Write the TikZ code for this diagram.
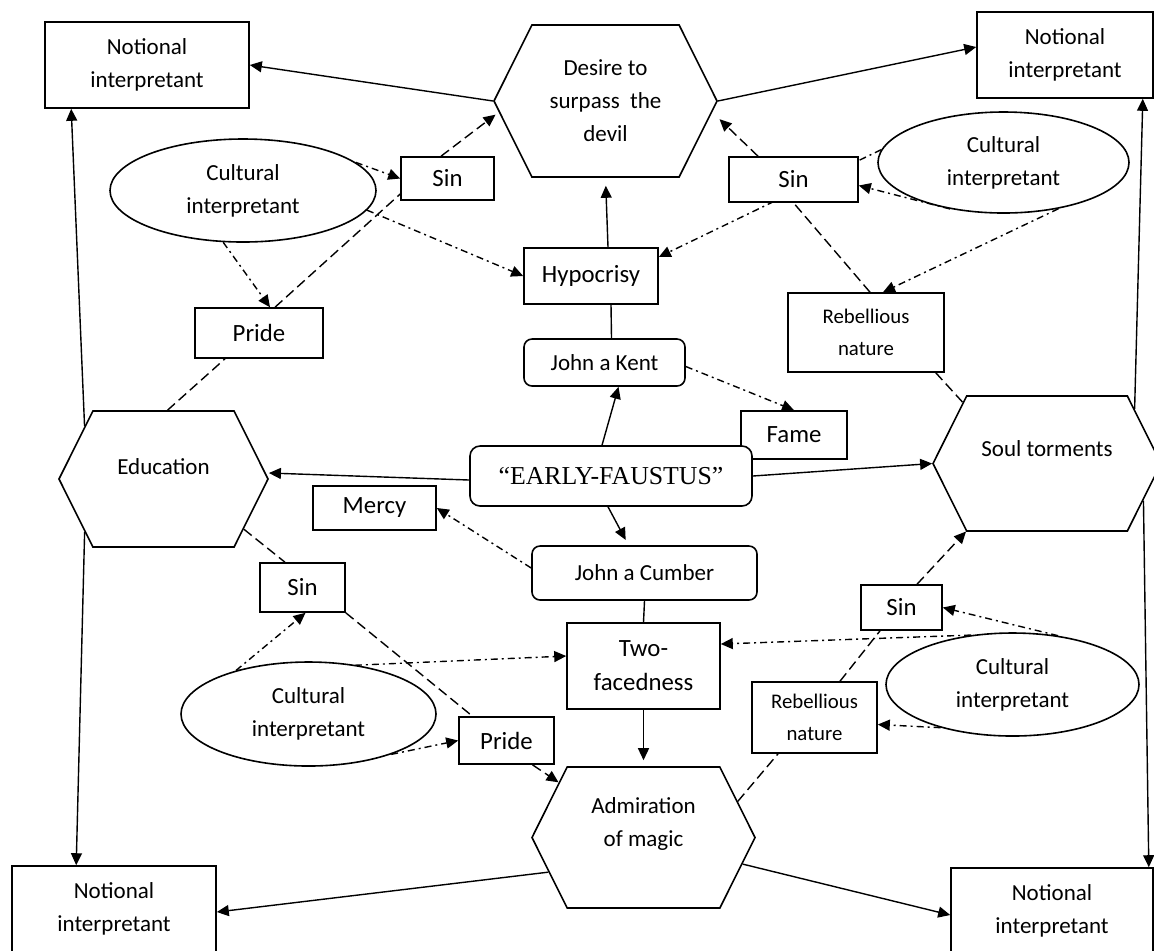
\documentclass[tikz,border=0pt]{standalone}
\usepackage{fontspec}
\setmainfont{Carlito}
\newfontfamily\efserif{Liberation Serif}
\usetikzlibrary{shapes.geometric,shapes.symbols,arrows.meta,backgrounds}

\newcommand{\txtnorm}{\fontsize{11.5}{16.5}\selectfont}
\newcommand{\txtbig}{\fontsize{12.4}{17}\selectfont}
\newcommand{\txtsmall}{\fontsize{10.4}{16}\selectfont}

\tikzset{
  base/.style={draw, fill=white, line width=0.8pt, inner sep=0pt, align=center, font=\txtnorm},
  sz/.style 2 args={minimum width=#1, minimum height=#2},
  boxn/.style={base, rectangle},
  roundbox/.style={base, rectangle, rounded corners=4pt},
  hexa/.style={base, signal, signal to=west and east, signal pointer angle=127},
  cult/.style={base, ellipse},
  every label/.style={font=\txtnorm, align=center},
  link/.style={line width=0.7pt},
  arr/.style={link, -{Triangle[length=6pt, width=5.5pt]}},
  dsh/.style={dash pattern=on 5pt off 2.5pt},
  dshdot/.style={dash pattern=on 3.5pt off 2pt on 1pt off 2pt},
}

\begin{document}
\begin{tikzpicture}[x=0.5pt, y=-0.5pt]
    \path[use as bounding box, clip] (0,0) rectangle (1154,950);

    % Notional interpretants
    \node[boxn, sz={102pt}{43pt}] (niTL) at (147,65) {Notional\\interpretant};
    \node[boxn, sz={88pt}{43pt}] (niTR) at (1065,55) {Notional\\interpretant};
    \node[boxn, sz={102pt}{43pt}] (niBL) at (114,909) {Notional\\interpretant};
    \node[boxn, sz={101pt}{43pt}] (niBR) at (1052,911) {Notional\\interpretant};

    % Hexagons
    \node[hexa, sz={111.5pt}{76pt}] (desire) at (605.5,101) {Desire to\\surpass\ \ the\\devil};
    \node[hexa, sz={104.5pt}{68pt}, label={[yshift=6pt]center:Education}] (edu) at (163.5,479) {};
    \node[hexa, sz={114pt}{67.5pt}, label={[yshift=7.5pt]center:Soul torments}] (soul) at (1047,463.5) {};
    \node[hexa, sz={111.5pt}{70.5pt}, label={[yshift=7pt]center:Admiration\\of magic}] (adm) at (643.5,837.5) {};

    % Cultural interpretants
    \node[cult, sz={133pt}{51.5pt}] (ciTL) at (243,190.5) {Cultural\\interpretant};
    \node[cult, sz={125.5pt}{50.5pt}] (ciTR) at (1003.5,162.5) {Cultural\\interpretant};
    \node[cult, sz={127.5pt}{52pt}] (ciBL) at (308.5,714) {Cultural\\interpretant};
    \node[cult, sz={126.5pt}{51.5pt}] (ciLR) at (1012.5,684.5) {Cultural\\interpretant};

    % Boxes
    \node[boxn, sz={46.5pt}{21.5pt}, font=\txtbig] (sinTL) at (447.5,178.5) {Sin};
    \node[boxn, sz={67pt}{28pt}, font=\txtbig] (hyp) at (591,276) {Hypocrisy};
    \node[boxn, sz={64.5pt}{22.5pt}, font=\txtbig] (sinTR) at (793.5,179.5) {Sin};
    \node[boxn, sz={78pt}{39.5pt}, font=\txtsmall] (rebTR) at (866,332.5) {Rebellious\\nature};
    \node[boxn, sz={64pt}{25pt}, font=\txtbig] (prideTL) at (259,333) {Pride};
    \node[roundbox, sz={80.5pt}{23.5pt}] (jak) at (604.5,362.5) {John a Kent};
    \node[boxn, sz={53pt}{24pt}, font=\txtbig] (fame) at (794,435) {Fame};
    \node[roundbox, rounded corners=5pt, sz={141pt}{30pt}, font=\efserif\fontsize{12.9}{15}\selectfont] (ef) at (611,476) {“EARLY-FAUSTUS”};
    \node[boxn, sz={61.5pt}{22pt}, font=\txtbig] (mercy) at (374.5,508) {Mercy};
    \node[roundbox, sz={112.5pt}{27pt}] (jac) at (644.5,573) {John a Cumber};
    \node[boxn, sz={42.5pt}{24.5pt}, font=\txtbig] (sinLL) at (302.5,587.5) {Sin};
    \node[boxn, sz={76.5pt}{43pt}, font=\txtbig] (two) at (643.5,666) {Two-\\facedness};
    \node[boxn, sz={47.5pt}{23.5pt}, font=\txtbig] (prideLL) at (506.5,740.5) {Pride};
    \node[boxn, sz={40.5pt}{22.5pt}, font=\txtbig] (sinLR) at (901.5,607.5) {Sin};
    \node[boxn, sz={62.5pt}{35.5pt}, font=\txtsmall] (rebLL) at (814.5,717.5) {Rebellious\\nature};

    \begin{scope}[on background layer]
    % Solid arrows
    \draw[arr] (desire.west) -- (niTL.east);
    \draw[arr] (desire.east) -- ([yshift=4pt]niTR.west);
    \draw[arr, shorten >=4pt] ([xshift=8.5pt]hyp.north) -- (desire.south);
    \draw[link] ([xshift=3.5pt]jak.north) -- ([xshift=10pt]hyp.south);
    \draw[arr] ([xshift=-4.5pt]ef.north) -- ([xshift=7pt]jak.south);
    \draw[arr, shorten >=3pt] ([xshift=-1.5pt]ef.south) -- ([xshift=-8pt]jac.north);
    \draw[arr] ([yshift=-2pt]ef.west) -- ([yshift=3pt]edu.east);
    \draw[arr] (ef.east) -- (soul.west);
    \draw[link] (jac.south) -- (two.north);
    \draw[arr, shorten >=3pt] (two.south) -- (adm.north);
    \draw[arr] (edu.146) -- ([xshift=13.5pt]niTL.south west);
    \draw[arr] (edu.214) -- ([xshift=32.5pt]niBL.north west);
    \draw[arr] (soul.32) -- ([xshift=-5.5pt]niTR.south east);
    \draw[arr] (soul.-21) -- ([xshift=-2.5pt]niBR.north east);
    \draw[arr] (adm.200) -- ([yshift=-1.5pt]niBL.east);
    \draw[arr] (adm.-15) -- ([yshift=-2pt]niBR.west);

    % Dashed chains
    \draw[link, dsh] ([xshift=2pt]edu.north) -- ([xshift=-17pt]prideTL.south);
    \draw[link, dsh] ([xshift=8pt]prideTL.north) -- ([yshift=-7.75pt]sinTL.west);
    \draw[arr, dsh, shorten >=2pt] ([xshift=-3.25pt]sinTL.north) -- (desire.186);
    \draw[link, dsh] (soul.144) -- ([xshift=-4.5pt]rebTR.south east);
    \draw[link, dsh] ([xshift=2pt]rebTR.north) -- (sinTR.south);
    \draw[arr, dsh, shorten >=5pt] ([xshift=-17.75pt]sinTR.north) -- (desire.-6);
    \draw[link, dsh] (edu.-32) -- ([xshift=-8.75pt]sinLL.north);
    \draw[link, dsh] (sinLL.south east) -- ([xshift=-17pt]prideLL.north);
    \draw[arr, dsh] ([xshift=13pt]prideLL.south) -- (adm.147);
    \draw[link, dsh] (adm.21) -- ([xshift=-18.25pt]rebLL.south);
    \draw[link, dsh] ([xshift=12.75pt]rebLL.north) -- ([xshift=-10.75pt]sinLR.south);
    \draw[arr, dsh] ([xshift=7.75pt]sinLR.north) -- (soul.220);

    % Dash-dotted arrows
    \draw[arr, dshdot] (ciTL.14) -- (sinTL.west);
    \draw[arr, dshdot] (ciTL.-9) -- (hyp.west);
    \draw[arr, dshdot] (ciTL.249) -- ([xshift=5.5pt]prideTL.north);
    \draw[arr, dshdot] (ciTR.174) -- ([yshift=9.5pt]hyp.east);
    \draw[arr, dshdot] (ciTR.221) -- ([yshift=-3pt]sinTR.east);
    \draw[arr, dshdot] (ciTR.-40) -- ([xshift=8.5pt]rebTR.north);
    \draw[arr, dshdot] ([yshift=-2pt]jak.east) -- (fame.north);
    \draw[arr, dshdot] ([yshift=2.5pt]jac.west) -- (mercy.east);
    \draw[arr, dshdot] (ciBL.149) -- ([xshift=1.5pt]sinLL.south);
    \draw[arr, dshdot] (ciBL.149) -- ([yshift=5pt]two.west);
    \draw[arr, dshdot] (ciBL.-26) -- (prideLL.west);
    \draw[arr, dshdot] (ciLR.47) -- (sinLR.east);
    \draw[arr, dshdot] (ciLR.130) -- ([yshift=11pt]two.east);
    \draw[arr, dshdot] (ciLR.211) -- ([yshift=-3.5pt]rebLL.east);
    \end{scope}
\end{tikzpicture}
\end{document}
